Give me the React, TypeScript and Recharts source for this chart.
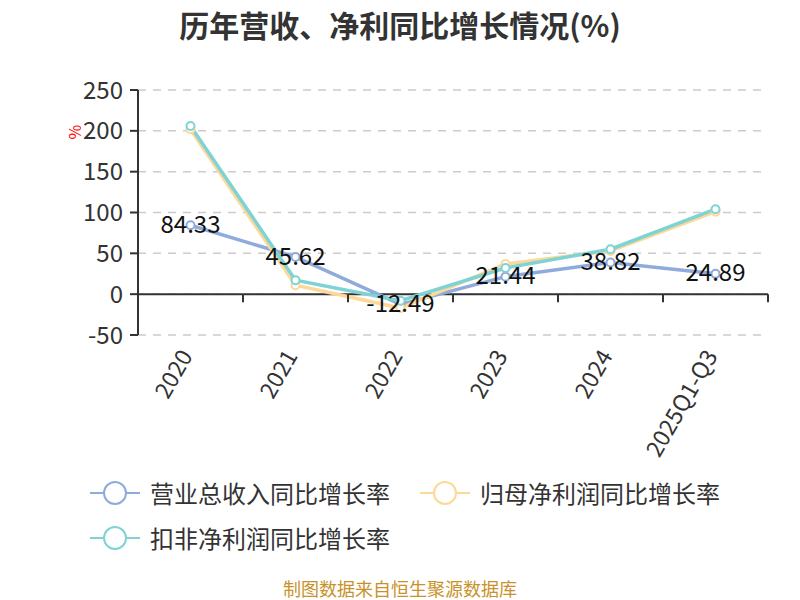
import * as React from 'react';
import { LineChart, Line, XAxis, YAxis, CartesianGrid, ReferenceLine, LabelList } from 'recharts';

const years = ['2020', '2021', '2022', '2023', '2024', '2025Q1-Q3'];
const revenueGrowth = [84.33, 45.62, -12.49, 21.44, 38.82, 24.89];
const parentProfitGrowth = [202, 11, -17, 37, 53, 101];
const deductedProfitGrowth = [206, 17, -8, 32, 55, 104];
const yTicks = [-50, 0, 50, 100, 150, 200, 250];

const seriesNames = ['营业总收入同比增长率', '归母净利润同比增长率', '扣非净利润同比增长率'];
const COLORS = ['#8eabdc', '#fdd898', '#7fd3d4'];

const FONT = '"Noto Sans CJK SC", "Noto Sans", sans-serif';
const PLOT_TOP = 90;
const PLOT_BOTTOM = 335;
const PLOT_LEFT = 138;
const PLOT_RIGHT = 768;
const Y_MIN = -50;
const Y_MAX = 250;
const ZERO_Y = PLOT_TOP + ((Y_MAX - 0) / (Y_MAX - Y_MIN)) * (PLOT_BOTTOM - PLOT_TOP);
const BAND = (PLOT_RIGHT - PLOT_LEFT) / years.length;

const data = years.map((year, i) => ({
  year,
  revenue: revenueGrowth[i],
  parent: parentProfitGrowth[i],
  deducted: deductedProfitGrowth[i],
}));

function XTick(props: any) {
  const { x, payload, index } = props;
  const last = index === years.length - 1;
  return (
    <g>
      <line x1={x - BAND / 2} x2={x - BAND / 2} y1={ZERO_Y} y2={ZERO_Y + 8} stroke="#333" strokeWidth={2} />
      {last && (
        <line x1={x + BAND / 2} x2={x + BAND / 2} y1={ZERO_Y} y2={ZERO_Y + 8} stroke="#333" strokeWidth={2} />
      )}
      <text
        x={x + 3}
        y={356}
        textAnchor="end"
        transform={`rotate(-60 ${x + 3} 356)`}
        fontSize={23}
        fill="#333"
        fontFamily={FONT}
      >
        {payload.value}
      </text>
    </g>
  );
}

function ValueLabel(props: any) {
  const { x, y, value } = props;
  return (
    <text x={x} y={y - 1} dy="0.36em" textAnchor="middle" fontSize={24} fill="#111" fontFamily={FONT}>
      {Number(value).toFixed(2)}
    </text>
  );
}

function LegendIcon({ color }: { color: string }) {
  return (
    <svg width={50} height={26} style={{ display: 'block' }}>
      <line x1={0} x2={50} y1={13} y2={13} stroke={color} strokeWidth={2} />
      <circle cx={25} cy={13} r={11} fill="#fff" stroke={color} strokeWidth={2} />
    </svg>
  );
}

function LegendItem({ i, left, top }: { i: number; left: number; top: number }) {
  return (
    <div style={{ position: 'absolute', left, top, display: 'flex', alignItems: 'center' }}>
      <LegendIcon color={COLORS[i]} />
      <span style={{ marginLeft: 10, fontSize: 24, lineHeight: '26px', color: '#333', whiteSpace: 'nowrap' }}>
        {seriesNames[i]}
      </span>
    </div>
  );
}

export default function App() {
  return (
    <div
      style={{
        position: 'absolute',
        left: 0,
        top: 0,
        width: 800,
        height: 600,
        background: '#fff',
        fontFamily: FONT,
        overflow: 'hidden',
      }}
    >
      <LineChart
        width={800}
        height={600}
        data={data}
        margin={{ top: PLOT_TOP, right: 800 - PLOT_RIGHT, left: 0, bottom: 0 }}
        style={{ position: 'absolute', left: 0, top: 0 }}
      >
        <CartesianGrid vertical={false} stroke="#ccc" strokeDasharray="8 7" strokeWidth={1.5} />
        <XAxis
          dataKey="year"
          axisLine={false}
          tickLine={false}
          height={600 - PLOT_BOTTOM}
          interval={0}
          padding={{ left: BAND / 2, right: BAND / 2 }}
          tick={<XTick />}
        />
        <YAxis
          width={PLOT_LEFT}
          domain={[Y_MIN, Y_MAX]}
          ticks={yTicks}
          interval={0}
          axisLine={{ stroke: '#333', strokeWidth: 2 }}
          tickLine={{ stroke: '#333', strokeWidth: 2 }}
          tickSize={8}
          tickMargin={7}
          tick={{ fontSize: 24, fill: '#333', fontFamily: FONT }}
        />
        <ReferenceLine y={0} stroke="#333" strokeWidth={2} />
        <Line
          dataKey="revenue"
          name={seriesNames[0]}
          stroke={COLORS[0]}
          strokeWidth={3.5}
          dot={{ r: 4, fill: '#fff', stroke: COLORS[0], strokeWidth: 2 }}
          isAnimationActive={false}
        >
          <LabelList dataKey="revenue" content={<ValueLabel />} />
        </Line>
        <Line
          dataKey="parent"
          name={seriesNames[1]}
          stroke={COLORS[1]}
          strokeWidth={3.5}
          dot={{ r: 4, fill: '#fff', stroke: COLORS[1], strokeWidth: 2 }}
          isAnimationActive={false}
        />
        <Line
          dataKey="deducted"
          name={seriesNames[2]}
          stroke={COLORS[2]}
          strokeWidth={3.5}
          dot={{ r: 4, fill: '#fff', stroke: COLORS[2], strokeWidth: 2 }}
          isAnimationActive={false}
        />
        <text
          x={75}
          y={132}
          transform="rotate(-90 75 132)"
          textAnchor="middle"
          dy="0.36em"
          fontSize={16}
          fill="#f00"
          fontFamily={FONT}
        >
          %
        </text>
      </LineChart>

      <div
        style={{
          position: 'absolute',
          top: 5,
          left: 0,
          width: 800,
          textAlign: 'center',
          fontSize: 30,
          lineHeight: '38px',
          fontWeight: 'bold',
          color: '#333',
        }}
      >
        历年营收、净利同比增长情况(%)
      </div>

      <LegendItem i={0} left={90} top={480} />
      <LegendItem i={1} left={420} top={480} />
      <LegendItem i={2} left={90} top={525} />

      <div
        style={{
          position: 'absolute',
          top: 577,
          left: 0,
          width: 800,
          textAlign: 'center',
          fontSize: 18,
          lineHeight: '22px',
          color: '#c8922a',
        }}
      >
        制图数据来自恒生聚源数据库
      </div>
    </div>
  );
}
